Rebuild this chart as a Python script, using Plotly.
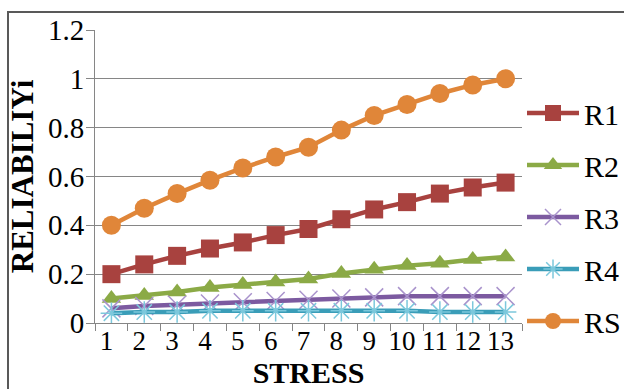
import plotly.graph_objects as go

stress = [str(i) for i in range(1, 14)]

r1 = [0.20, 0.24, 0.275, 0.305, 0.33, 0.36, 0.385, 0.425, 0.465, 0.495, 0.53, 0.555, 0.575]
r2 = [0.10, 0.113, 0.127, 0.145, 0.158, 0.168, 0.18, 0.203, 0.22, 0.235, 0.245, 0.26, 0.27]
r3 = [0.06, 0.07, 0.075, 0.08, 0.085, 0.09, 0.095, 0.10, 0.105, 0.11, 0.11, 0.11, 0.11]
r4 = [0.04, 0.045, 0.045, 0.05, 0.05, 0.05, 0.05, 0.05, 0.05, 0.05, 0.045, 0.045, 0.045]
rs = [0.40, 0.47, 0.53, 0.585, 0.635, 0.68, 0.72, 0.79, 0.85, 0.895, 0.94, 0.975, 1.00]

series = [
    ("R1", r1, "#A8423F", "square", 18, "#A8423F", 0),
    ("R2", r2, "#8BAA46", "triangle-up", 17, "#8BAA46", 0),
    ("R3", r3, "#7C5AA0", "x-thin", 18, "#A993CC", 1.5),
    ("R4", r4, "#3A9DB8", "asterisk", 18, "#7CC8DC", 1.5),
    ("RS", rs, "#E08639", "circle", 19, "#E08639", 0),
]

serif = "Liberation Serif"

fig = go.Figure()
for i, (name, vals, color, symbol, size, mcolor, mlw) in enumerate(series):
    fig.add_trace(go.Scatter(
        x=stress, y=vals, name=name, mode="lines+markers",
        legendgroup=f"g{i}",
        line=dict(color=color, width=4.5),
        marker=dict(symbol=symbol, size=size, color=mcolor,
                    line=dict(color=mcolor, width=mlw)),
    ))

W, H = 624, 389
L, R, T, B = 95, 102, 30, 66
pw, ph = W - L - R, H - T - B

def px(x):
    return (x - L) / pw

def py(y):
    return (H - B - y) / ph

fig.update_layout(
    width=W, height=H,
    margin=dict(l=L, r=R, t=T, b=B, autoexpand=False),
    paper_bgcolor="white", plot_bgcolor="white",
    font=dict(family=serif, color="black", size=30),
    showlegend=True,
    legend=dict(
        x=px(522), xanchor="left", y=py(217), yanchor="middle",
        font=dict(size=30, family=serif, color="black"),
        tracegroupgap=10, itemwidth=52,
        bgcolor="rgba(0,0,0,0)",
    ),
    xaxis=dict(
        type="category", tickson="boundaries", range=[-0.5, len(stress) - 0.5],
        tickmode="array", tickvals=stress, ticktext=stress,
        showgrid=False, showline=True, linecolor="#868686", linewidth=1,
        ticks="outside", ticklen=7, tickcolor="#868686", tickangle=0,
        ticklabelstandoff=-6, ticklabelshift=-5,
        tickfont=dict(size=27, family=serif, color="black"),
        title=dict(text="<b>STRESS</b>", font=dict(size=30, family=serif, color="black"), standoff=5),
    ),
    yaxis=dict(
        range=[0, 1.2], dtick=0.2, tickformat="~g",
        showgrid=True, gridcolor="#868686", gridwidth=1,
        showline=True, linecolor="#868686", linewidth=1,
        ticks="outside", ticklen=8, tickcolor="#868686",
        ticklabelstandoff=-4,
        tickfont=dict(size=29, family=serif, color="black"),
        zeroline=False,
        title=dict(text="<b>RELIABILIYi</b>", font=dict(size=31, family=serif, color="black"), standoff=5),
    ),
    shapes=[dict(
        type="rect", xref="paper", yref="paper",
        x0=px(8), x1=px(640), y0=py(405), y1=py(12),
        line=dict(color="#595959", width=2), fillcolor="rgba(0,0,0,0)",
        layer="below",
    )],
)

fig.write_html("out.html")
